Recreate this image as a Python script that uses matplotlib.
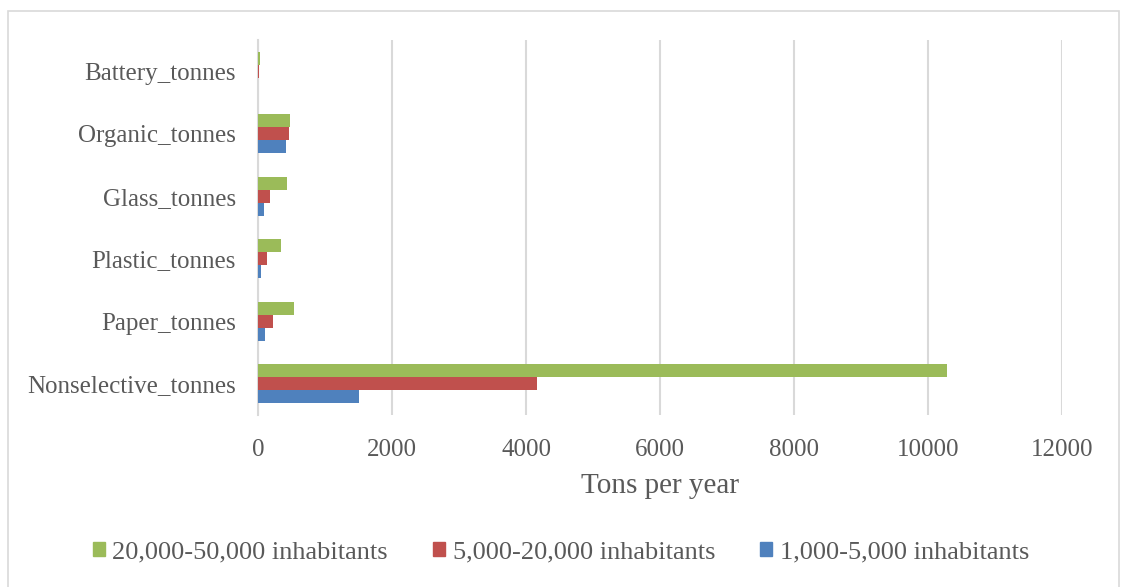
import matplotlib
matplotlib.use("Agg")
import matplotlib.pyplot as plt
import numpy as np
from matplotlib.patches import Rectangle, Patch

categories = ["Nonselective_tonnes", "Paper_tonnes", "Plastic_tonnes",
              "Glass_tonnes", "Organic_tonnes", "Battery_tonnes"]
small_towns = [1512, 100, 50, 85, 418, 2]        # 1,000-5,000 inhabitants
medium_towns = [4164, 219, 130, 184, 463, 10]    # 5,000-20,000 inhabitants
large_towns = [10279, 533, 343, 428, 478, 30]    # 20,000-50,000 inhabitants

series_labels = ["1,000-5,000 inhabitants", "5,000-20,000 inhabitants",
                 "20,000-50,000 inhabitants"]
colors = ["#4F81BD", "#C0504D", "#9BBB59"]
text_col = "#595959"
grid_col = "#D9D9D9"

plt.rcParams["font.family"] = ["Liberation Serif", "DejaVu Serif"]

fig = plt.figure(figsize=(11.22, 5.87), dpi=100)
ax = fig.add_axes([258 / 1122, 1 - 415 / 587, 804 / 1122, 375 / 587])

# outer chart border
fig.patches.append(Rectangle((8 / 1122, -0.01), 1111 / 1122, 1 - 11 / 587 + 0.01,
                             transform=fig.transFigure, fill=False,
                             edgecolor=grid_col, lw=1.2))

y = np.arange(len(categories))
h = 0.21
for i, (vals, col) in enumerate(zip([small_towns, medium_towns, large_towns], colors)):
    ax.barh(y + (i - 1) * h, vals, height=h, color=col, zorder=3)

ax.set_ylim(-0.5, len(categories) - 0.5)
ax.set_xlim(0, 12000)
ax.set_xticks(np.arange(0, 12001, 2000))
ax.set_yticks(y)
ax.set_yticklabels(categories)
ax.tick_params(axis="both", length=0, labelsize=18, colors=text_col)
ax.tick_params(axis="y", pad=16)
ax.tick_params(axis="x", pad=17)
ax.grid(axis="x", color=grid_col, lw=1.5, zorder=0)
for sp in ["top", "right", "bottom"]:
    ax.spines[sp].set_visible(False)
ax.spines["left"].set_color(grid_col)
ax.spines["left"].set_linewidth(1.5)
ax.set_xlabel("Tons per year", fontsize=21, color=text_col, labelpad=9)

handles = [Patch(color=colors[i]) for i in (2, 1, 0)]
labels = [series_labels[i] for i in (2, 1, 0)]
fig.legend(handles, labels, loc="center", bbox_to_anchor=(0.5, 1 - 552 / 587),
           ncol=3, frameon=False, fontsize=19, labelcolor=text_col,
           handlelength=0.45, handleheight=0.45, handletextpad=0.3, columnspacing=1.7)

fig.savefig("out.png", dpi=100)
